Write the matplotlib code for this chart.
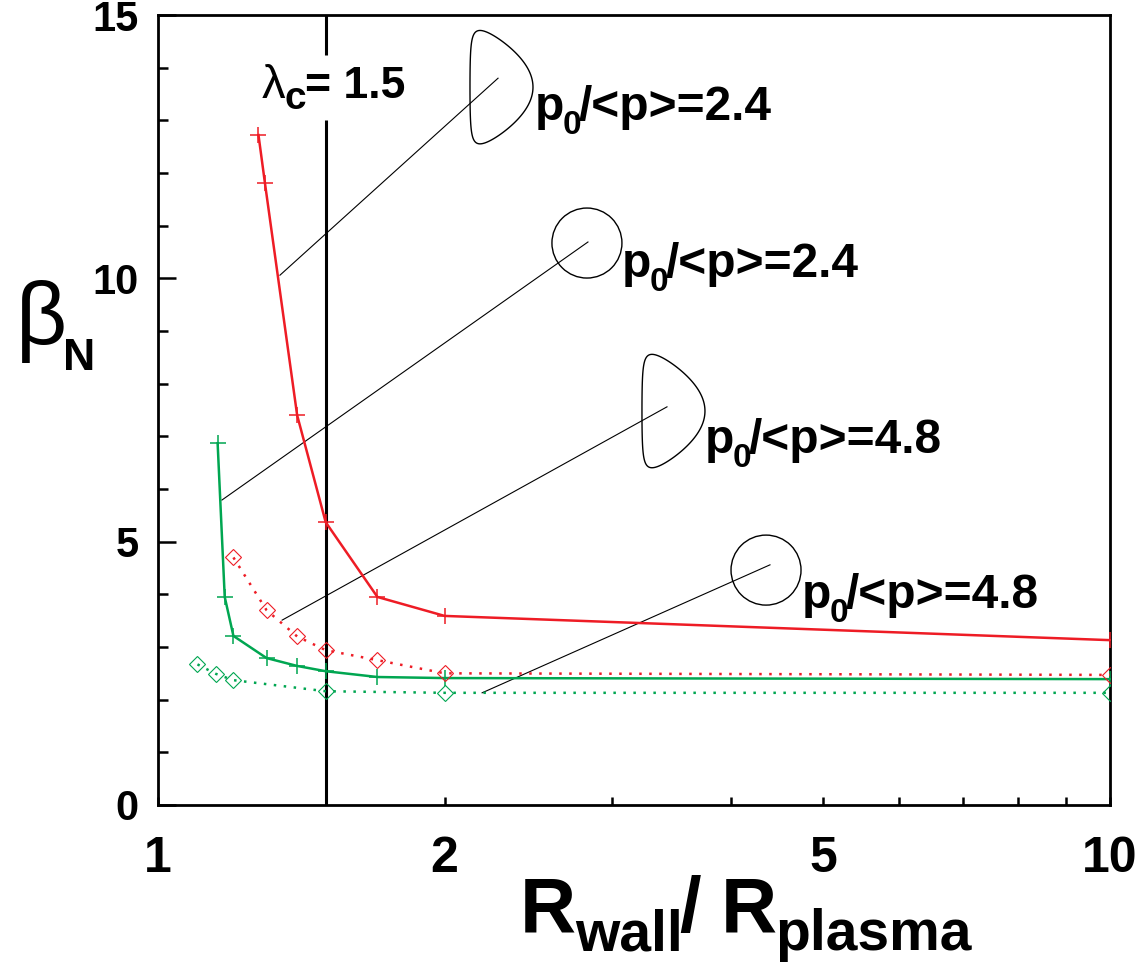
import numpy as np
import matplotlib
matplotlib.use("Agg")
import matplotlib.pyplot as plt
from matplotlib.patches import Circle, Polygon
from matplotlib.transforms import ScaledTranslation

plt.rcParams['font.family'] = ['Liberation Sans', 'DejaVu Sans']
plt.rcParams['font.weight'] = 'bold'

# data
r_solid_x = [1.275, 1.295, 1.4, 1.5, 1.7, 2.0, 10.0]
r_solid_y = [12.72, 11.81, 7.40, 5.37, 3.95, 3.59, 3.13]
g_solid_x = [1.155, 1.175, 1.2, 1.3, 1.4, 1.5, 1.7, 2.0, 10.0]
g_solid_y = [6.87, 3.95, 3.21, 2.79, 2.64, 2.54, 2.43, 2.41, 2.39]
r_dot_x = [1.2, 1.3, 1.4, 1.5, 1.7, 2.0, 10.0]
r_dot_y = [4.70, 3.70, 3.20, 2.94, 2.75, 2.50, 2.47]
g_dot_x = [1.1, 1.15, 1.2, 1.5, 2.0, 10.0]
g_dot_y = [2.67, 2.49, 2.37, 2.16, 2.13, 2.13]

lambda_c = 1.5

# annotations: ratio value, shape, line start (on curve), line end, shape centre, text anchor
ratios = ['2.4', '2.4', '4.8', '4.8']
shapes = ['D', 'circle', 'D', 'circle']
line_start = [(1.343, 10.06), (1.167, 5.79), (1.35, 3.51), (2.19, 2.13)]
line_end = [(2.276, 13.80), (2.829, 10.69), (3.425, 7.56), (4.394, 4.56)]
shape_pos = [(2.295, 13.63), (2.822, 10.67), (3.479, 7.48), (4.352, 4.46)]
text_pos = [(2.489, 13.01), (3.072, 10.02), (3.755, 6.68), (4.748, 3.74)]

red = '#ee1c25'
green = '#00a651'

fig = plt.figure(figsize=(11.47, 9.68), dpi=100)
ax = fig.add_axes([0.1378, 0.1684, 0.8299, 0.8161])


def rich_text(x, y, coords, parts):
    # parts: (text, size, weight, dx, dy) in points; x chained, y from the baseline
    prev = None
    for s, size, weight, dx, dy in parts:
        if prev is None:
            xy, xyc = (x, y), coords
        else:
            xy, xyc = (1, y), (prev, coords)
        prev = ax.annotate(s, xy=xy, xycoords=xyc, xytext=(dx, dy),
                           textcoords='offset points', fontsize=size,
                           fontweight=weight, ha='left', va='baseline',
                           annotation_clip=False)
    return prev


ax.plot(r_solid_x, r_solid_y, color=red, lw=1.8, marker='+', ms=11.5, mew=1.1, zorder=3)
ax.plot(g_solid_x, g_solid_y, color=green, lw=1.8, marker='+', ms=11.5, mew=1.1, zorder=3)
ax.plot(r_dot_x, r_dot_y, color=red, lw=1.8, ls=(0, (1, 3)), marker='D', ms=8,
        mfc='none', mew=0.8, zorder=3)
ax.plot(g_dot_x, g_dot_y, color=green, lw=1.8, ls=(0, (1, 3)), marker='D', ms=8,
        mfc='none', mew=0.8, zorder=3)

# vertical line, broken where its label sits
ax.vlines([lambda_c, lambda_c], [0, 14.24], [13.0, 15], color='black', lw=2.2, zorder=1)
rich_text(1.286, 13.42, 'data', [('λ', 34, 'normal', 0, 0),
                                  ('c', 28, 'bold', -1, -8),
                                  ('= 1.5', 32, 'bold', -1, 0)])

# D shaped cross section, in inches
th = np.linspace(0, 2 * np.pi, 200)
a, kappa, delta = 0.315, 1.8, 0.75
d_x = a * np.cos(th + delta * np.sin(th))
d_y = kappa * a * np.sin(th)

for val, shp, p0, p1, sp, tp in zip(ratios, shapes, line_start, line_end, shape_pos, text_pos):
    ax.plot([p0[0], p1[0]], [p0[1], p1[1]], color='black', lw=0.8, zorder=2)
    trans = fig.dpi_scale_trans + ScaledTranslation(sp[0], sp[1], ax.transData)
    if shp == 'circle':
        patch = Circle((0, 0), 0.35, transform=trans, fill=False, ec='black', lw=1.0)
    else:
        patch = Polygon(np.column_stack([d_x, d_y]), closed=True, transform=trans,
                        fill=False, ec='black', lw=1.0)
    patch.set_clip_on(False)
    ax.add_patch(patch)
    rich_text(tp[0], tp[1], 'data', [('p', 34.5, 'bold', 0, 0),
                                      ('0', 24, 'bold', -1, -10),
                                      ('/<p>=' + val, 34.5, 'bold', -2, 0)])

ax.set_xscale('log')
ax.set_xlim(1, 10)
ax.set_ylim(0, 15)

ax.set_xticks([1, 2, 5, 10])
ax.set_xticklabels(['1', '2', '5', '10'])
ax.set_xticks([3, 4, 6, 7, 8, 9], minor=True)
ax.xaxis.set_minor_formatter(matplotlib.ticker.NullFormatter())
ax.set_yticks([0, 5, 10, 15])
ax.set_yticks(range(0, 16), minor=True)

ax.tick_params(axis='x', which='both', direction='in', length=6, width=1.8,
               labelsize=36, pad=22, top=False)
ax.tick_params(axis='y', which='major', direction='in', length=13, width=1.8,
               labelsize=30, pad=14, right=False)
ax.tick_params(axis='y', which='minor', direction='in', length=7, width=1.8, right=False)
for lab in ax.get_xticklabels() + ax.get_yticklabels():
    lab.set_fontweight('bold')

for sp in ax.spines.values():
    sp.set_linewidth(2.0)

# axis labels
rich_text(16 / 1147, 1 - 345 / 968, 'figure fraction',
          [('β', 64, 'normal', 0, 0), ('N', 32, 'bold', -3, -18)])
rich_text(520 / 1147, 1 - 932 / 968, 'figure fraction',
          [('R', 56, 'bold', 0, 0), ('wall', 41, 'bold', -1, -13),
           ('/', 56, 'bold', -2, 0), ('R', 56, 'bold', 14, 0),
           ('plasma', 41, 'bold', -1, -13)])

fig.savefig('out.png', dpi=100)
